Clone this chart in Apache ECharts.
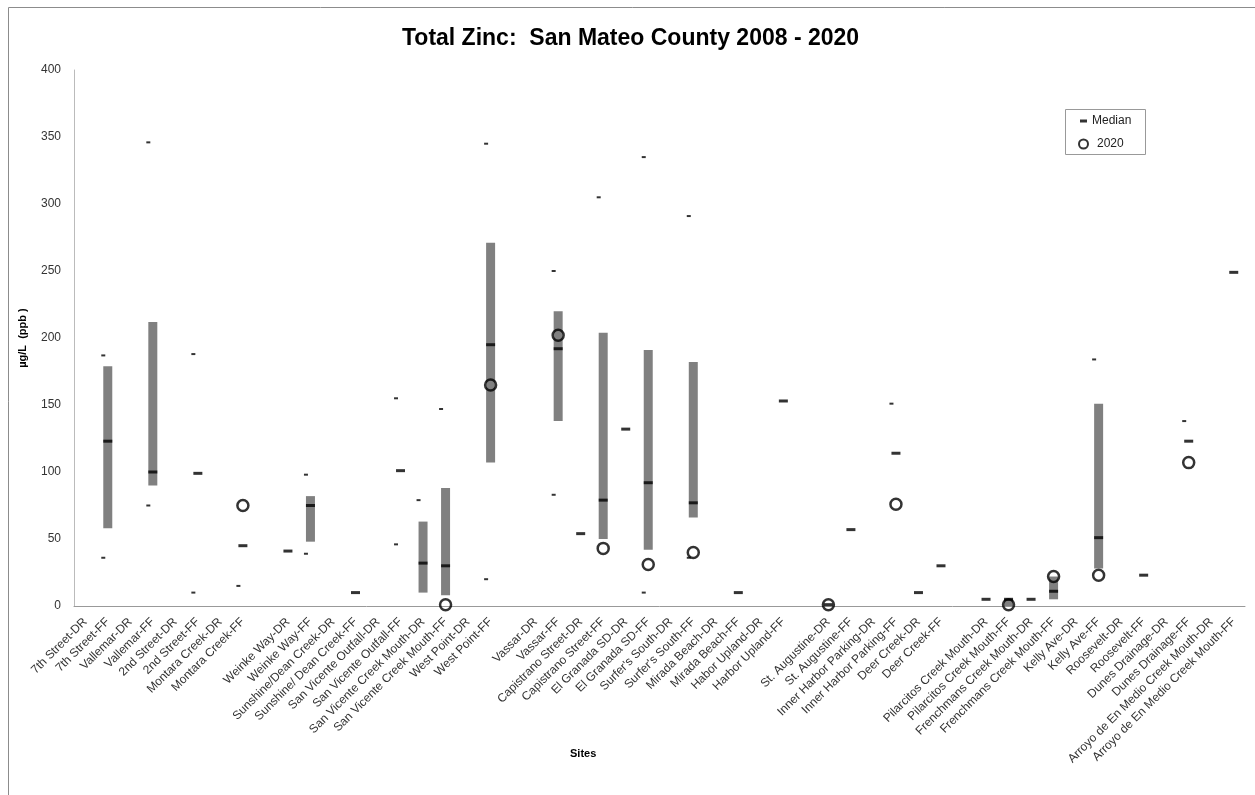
<!DOCTYPE html>
<html>
<head>
<meta charset="utf-8">
<script src="https://cdn.jsdelivr.net/npm/echarts@6/dist/echarts.min.js"></script>
<style>
  html, body { margin: 0; padding: 0; background: #fff; }
  #chart { width: 1255px; height: 795px; }
</style>
</head>
<body>
<div id="chart"></div>
<script>
const sites = [
  "7th Street-DR", "7th Street-FF", "Vallemar-DR", "Vallemar-FF", "2nd Street-DR", "2nd Street-FF",
  "Montara Creek-DR", "Montara Creek-FF", "", "Weinke Way-DR", "Weinke Way-FF",
  "Sunshine/Dean Creek-DR", "Sunshine/ Dean Creek-FF", "San Vicente Outfall-DR", "San Vicente Outfall-FF",
  "San Vicente Creek Mouth-DR", "San Vicente Creek Mouth-FF", "West Point-DR", "West Point-FF", " ",
  "Vassar-DR", "Vassar-FF", "Capistrano Street-DR", "Capistrano Street-FF", "El Granada SD-DR",
  "El Granada SD-FF", "Surfer's South-DR", "Surfer's South-FF", "Mirada Beach-DR", "Mirada Beach-FF",
  "Habor Upland-DR", "Harbor Upland-FF", "  ", "St. Augustine-DR", "St. Augustine-FF",
  "Inner Harbor Parking-DR", "Inner Harbor Parking-FF", "Deer Creek-DR", "Deer Creek-FF", "   ",
  "Pilarcitos Creek Mouth-DR", "Pilarcitos Creek Mouth-FF", "Frenchmans Creek Mouth-DR",
  "Frenchmans Creek Mouth-FF", "Kelly Ave-DR", "Kelly Ave-FF", "Roosevelt-DR", "Roosevelt-FF",
  "Dunes Drainage-DR", "Dunes Drainage-FF", "Arroyo de En Medio Creek Mouth-DR", "Arroyo de En Medio Creek Mouth-FF"
];

// 25th / 75th percentile (box), median, max, min, 2020 result (µg/L)
const q1 = [null, 58, null, 90, null, null, null, null, null, null, 48, null, null, null, null, 10, 8, null, 107, null,
  null, 138, null, 50, null, 42, null, 66, null, null, null, null, null, null, null, null, null, null, null, null,
  null, 0, null, 5, null, 28, null, null, null, null, null, null];
const q3 = [null, 179, null, 212, null, null, null, null, null, null, 82, null, null, null, null, 63, 88, null, 271, null,
  null, 220, null, 204, null, 191, null, 182, null, null, null, null, null, null, null, null, null, null, null, null,
  null, 5, null, 22, null, 151, null, null, null, null, null, null];
const median = [null, 123, null, 100, null, 99, null, 45, null, 41, 75, null, 10, null, 101, 32, 30, null, 195, null,
  null, 192, 54, 79, 132, 92, null, 77, null, 10, null, 153, null, 1, 57, null, 114, 10, 30, null,
  5, 5, 5, 11, null, 51, null, 23, null, 123, null, 249];
const maxVal = [null, 187, null, 346, null, 188, null, null, null, null, 98, null, null, null, 155, 79, 147, null, 345, null,
  null, 250, null, 305, null, 335, null, 291, null, null, null, null, null, null, null, null, 151, null, null, null,
  null, null, null, null, null, 184, null, null, null, 138, null, null];
const minVal = [null, 36, null, 75, null, 10, null, 15, null, null, 39, null, null, null, 46, null, null, null, 20, null,
  null, 83, null, null, null, 10, null, 36, null, null, null, null, null, null, null, null, null, null, null, null,
  null, null, null, null, null, null, null, null, null, null, null, null];
const y2020 = [null, null, null, null, null, null, null, 75, null, null, null, null, null, null, null, null, 1, null, 165, null,
  null, 202, null, 43, null, 31, null, 40, null, null, null, null, null, 1, null, null, 76, null, null, null,
  null, 1, null, 22, null, 23, null, null, null, 107, null, null];

const boxHeight = q1.map((v, i) => (v == null || q3[i] == null) ? null : q3[i] - v);

const font = "Liberation Sans, Arial, sans-serif";
const chart = echarts.init(document.getElementById("chart"));

chart.setOption({
  animation: false,
  textStyle: { fontFamily: font },
  title: [
    {
      text: "Total Zinc:  San Mateo County 2008 - 2020",
      left: 397,
      top: 22,
      textStyle: { fontSize: 23, fontWeight: "bold", color: "#000", fontFamily: font }
    },
    {
      text: "Sites",
      left: 565,
      top: 743,
      textStyle: { fontSize: 11, fontWeight: "bold", color: "#000", fontFamily: font }
    }
  ],
  graphic: [
    { type: "rect", shape: { x: 8.5, y: 7.5, width: 1300, height: 820 }, style: { fill: "none", stroke: "#8c8c8c", lineWidth: 1 } },
    { type: "rect", shape: { x: 1065.5, y: 109.5, width: 80, height: 45 }, style: { fill: "none", stroke: "#999", lineWidth: 1 } }
  ],
  legend: [
    {
      data: ["Median"],
      left: 1075, top: 110,
      icon: "rect", itemWidth: 7, itemHeight: 3, itemGap: 4,
      textStyle: { fontSize: 12, color: "#222", fontFamily: font }
    },
    {
      data: ["2020"],
      left: 1073, top: 133,
      icon: "circle", itemWidth: 9, itemHeight: 9,
      textStyle: { fontSize: 12, color: "#222", fontFamily: font, padding: [0, 0, 0, 4] }
    }
  ],
  grid: { left: 74, right: 10, top: 70, bottom: 189 },
  xAxis: {
    type: "category",
    data: sites,
    axisLine: { lineStyle: { color: "#999" } },
    axisTick: { show: false },
    axisLabel: { interval: 0, rotate: 45, fontSize: 12, color: "#333", margin: 14, fontFamily: font }
  },
  yAxis: {
    type: "value",
    min: 0, max: 400, interval: 50,
    name: "µg/L  (ppb )",
    nameLocation: "middle",
    nameGap: 46,
    nameTextStyle: { fontSize: 11, fontWeight: "bold", color: "#000", fontFamily: font },
    axisLine: { show: true, lineStyle: { color: "#bbb" } },
    axisTick: { show: false },
    splitLine: { show: false },
    axisLabel: { fontSize: 12, color: "#333", margin: 13, fontFamily: font }
  },
  series: [
    {
      name: "base", type: "bar", stack: "box", data: q1, barWidth: 9,
      itemStyle: { color: "transparent" }, silent: true
    },
    {
      name: "box", type: "bar", stack: "box", data: boxHeight, barWidth: 9,
      itemStyle: { color: "#808080" }
    },
    {
      name: "Max", type: "scatter", data: maxVal, symbol: "rect", symbolSize: [4, 2], symbolOffset: [-4.5, 0],
      itemStyle: { color: "#000" }
    },
    {
      name: "Min", type: "scatter", data: minVal, symbol: "rect", symbolSize: [4, 2], symbolOffset: [-4.5, 0],
      itemStyle: { color: "#000" }
    },
    {
      name: "Median", type: "scatter", data: median, symbol: "rect", symbolSize: [9, 3],
      itemStyle: { color: "#000" }
    },
    {
      name: "2020", type: "scatter", data: y2020, symbol: "circle", symbolSize: 11,
      itemStyle: { color: "transparent", borderColor: "#000", borderWidth: 2.5 }
    }
  ]
});
</script>
</body>
</html>
